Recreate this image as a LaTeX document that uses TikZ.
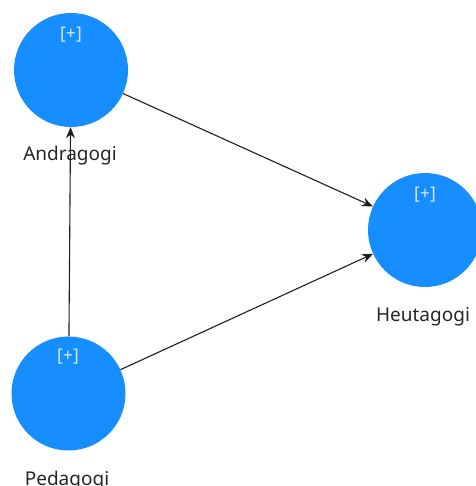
\documentclass[tikz,border=0pt]{standalone}
\usepackage{fontspec}
\setmainfont{Noto Sans}
\usetikzlibrary{arrows.meta}
\definecolor{nodeblue}{RGB}{22,142,255}
\definecolor{plusgray}{RGB}{215,232,250}
\definecolor{edgegray}{RGB}{30,30,30}
\begin{document}
\begin{tikzpicture}[x=1pt,y=-1pt,
  latent/.style={circle,fill=nodeblue,draw=none,minimum size=114pt,inner sep=0pt},
  plusmark/.style={text=plusgray,font=\fontsize{17.5}{18}\selectfont,inner sep=0pt},
  varlabel/.style={text=black!85,font=\fontsize{19}{20}\selectfont,anchor=base,inner sep=0pt},
  edgearrow/.style={draw=edgegray,line width=1.1pt,-{Stealth[length=11pt,width=9pt]}}]
\useasboundingbox (0,0) rectangle (475,486);
\node[latent] (A) at (71,70) {};
\node[latent] (H) at (425,230) {};
\node[latent] (P) at (68.5,393.5) {};
\node[plusmark] (Ap) at (71,35) {[+]};
\node[plusmark] (Hp) at (425,195) {[+]};
\node[plusmark] (Pp) at (68,357) {[+]};
\node[varlabel] (Al) at (70,161) {Andragogi};
\node[varlabel] (Hl) at (423,321) {Heutagogi};
\node[varlabel] (Pl) at (67,485) {Pedagogi};
\draw[edgearrow] (P) -- (A);
\draw[edgearrow] (A) -- (H);
\draw[edgearrow] (P) -- (H);
\end{tikzpicture}
\end{document}
